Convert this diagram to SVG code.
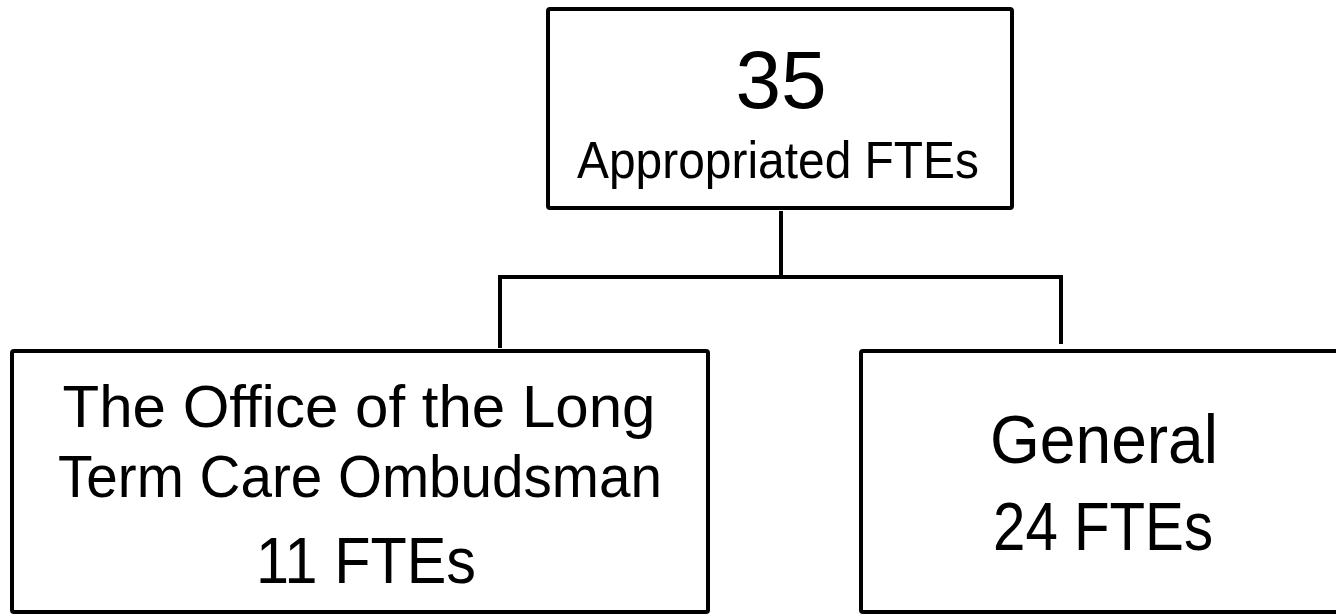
<svg xmlns="http://www.w3.org/2000/svg" width="1336" height="616" viewBox="0 0 1336 616">
<style>
.box{fill:#fff;stroke:#000;stroke-width:4}
.t{font-family:"Liberation Sans",Arial,sans-serif;fill:#000;text-anchor:middle}
.c{fill:none;stroke:#000;stroke-width:4}
</style>
<rect width="1336" height="616" fill="#fff"/>
<g id="connectors">
<path class="c" d="M781 211V277"/>
<path class="c" d="M500 348V277H1061V344"/>
</g>
<g id="top">
<rect class="box" x="548" y="9" width="464" height="199" rx="2"/>
<text class="t" x="781" y="108" font-size="82">35</text>
<text class="t" x="778" y="178" font-size="52" textLength="402" lengthAdjust="spacingAndGlyphs">Appropriated FTEs</text>
</g>
<g id="left">
<rect class="box" x="12" y="351" width="696" height="261" rx="2"/>
<text class="t" x="359" y="427" font-size="60" textLength="593" lengthAdjust="spacingAndGlyphs">The Office of the Long</text>
<text class="t" x="360" y="497" font-size="60" textLength="604" lengthAdjust="spacingAndGlyphs">Term Care Ombudsman</text>
<text class="t" x="366" y="583" font-size="65" textLength="220" lengthAdjust="spacingAndGlyphs">11 FTEs</text>
</g>
<g id="right">
<rect class="box" x="861" y="351" width="490" height="261" rx="2"/>
<text class="t" x="1104" y="463" font-size="68" textLength="228" lengthAdjust="spacingAndGlyphs">General</text>
<text class="t" x="1103" y="550" font-size="68" textLength="220" lengthAdjust="spacingAndGlyphs">24 FTEs</text>
</g>
</svg>
